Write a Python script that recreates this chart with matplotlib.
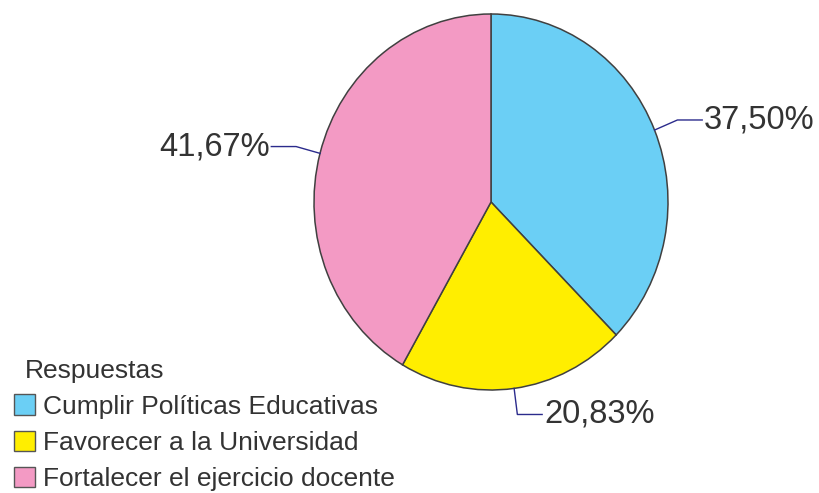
import numpy as np
import matplotlib.pyplot as plt
from matplotlib.patches import Patch

plt.rcParams["font.family"] = ["Liberation Sans", "DejaVu Sans"]

categorias = ["Cumplir Políticas Educativas", "Favorecer a la Universidad",
              "Fortalecer el ejercicio docente"]
porcentajes = [37.50, 20.83, 41.67]
colores = ["#6bcff5", "#ffee00", "#f39ac4"]
titulo_leyenda = "Respuestas"

text_color = "#333333"
line_color = "#2b2b8c"

fig = plt.figure(figsize=(8.19, 4.93), dpi=100)
ax = fig.add_axes([314 / 819, 1 - 390 / 493, 354 / 819, 376 / 493])

wedges, _ = ax.pie(porcentajes, colors=colores, startangle=90, counterclock=False,
                   wedgeprops=dict(edgecolor="#404040", linewidth=1.1))
ax.set_aspect("auto")
ax.set_xlim(-1, 1)
ax.set_ylim(-1, 1)

for w, p in zip(wedges, porcentajes):
    ang = np.deg2rad((w.theta1 + w.theta2) / 2)
    x0, y0 = np.cos(ang), np.sin(ang)
    xe, ye = 1.14 * x0, 1.14 * y0
    side = 1 if x0 > 0 else -1
    xt = xe + side * 0.14
    ax.plot([x0, xe, xt], [y0, ye, ye], color=line_color, lw=1.0, clip_on=False)
    label = f"{p:.2f}%".replace(".", ",")
    ax.text(xt + side * 0.01, ye, label, ha="left" if side > 0 else "right",
            va="center", fontsize=23.5, color=text_color)

handles = [Patch(facecolor=c, edgecolor="#555555", linewidth=1.0) for c in colores]
leg = fig.legend(handles, categorias, title=titulo_leyenda, loc="lower left",
                 bbox_to_anchor=(0.0075, -0.012), frameon=False, fontsize=19,
                 title_fontsize=19, handlelength=0.8, handleheight=0.8,
                 handletextpad=0.28, labelspacing=0.45, borderpad=0.3,
                 borderaxespad=0.0, alignment="left")
for t in leg.get_texts():
    t.set_color(text_color)
leg.get_title().set_color(text_color)
leg.get_title().set_position((11, 0))

fig.savefig("out.png", dpi=100)
